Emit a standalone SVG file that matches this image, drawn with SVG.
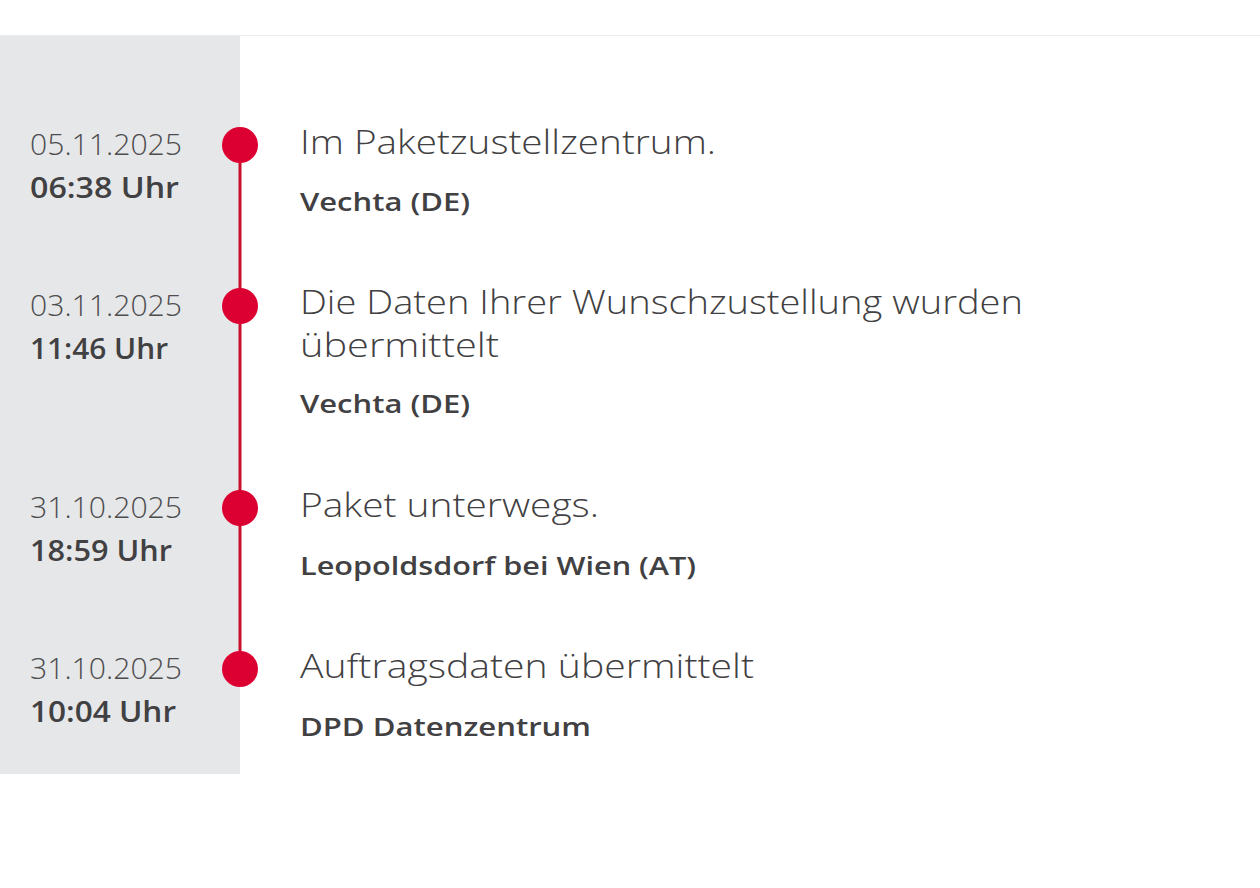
<svg xmlns="http://www.w3.org/2000/svg" width="1260" height="888" viewBox="0 0 1260 888">
<style>
.date{font-family:"Open Sans","Noto Sans",sans-serif;font-size:29px;font-weight:300;fill:#4d4d4f}
.time{font-family:"Open Sans","Noto Sans",sans-serif;font-size:28px;font-weight:600;fill:#414042}
.title{font-family:"Open Sans","Noto Sans",sans-serif;font-size:33px;font-weight:300;fill:#414042}
.loc{font-family:"Open Sans","Noto Sans",sans-serif;font-size:26px;font-weight:600;fill:#414042}
.dot{fill:#dc0032}
</style>
<rect x="0" y="0" width="1260" height="888" fill="#ffffff"/>
<line x1="0" y1="35.5" x2="1260" y2="35.5" stroke="#ebebeb" stroke-width="1"/>
<rect x="0" y="36" width="240" height="738" fill="#e6e7e8"/>
<g id="connectors">
<line x1="240" y1="145" x2="240" y2="669" stroke="#c8102e" stroke-width="3"/>
</g>
<g id="event1">
<circle class="dot" cx="240" cy="145" r="18"/>
<text class="date" x="30" y="155" textLength="152" lengthAdjust="spacingAndGlyphs">05.11.2025</text>
<text class="time" x="30" y="198" textLength="149" lengthAdjust="spacingAndGlyphs">06:38 Uhr</text>
<text class="title" x="300" y="154" textLength="416" lengthAdjust="spacingAndGlyphs">Im Paketzustellzentrum.</text>
<text class="loc" x="300" y="211" textLength="170" lengthAdjust="spacingAndGlyphs">Vechta (DE)</text>
</g>
<g id="event2">
<circle class="dot" cx="240" cy="306" r="18"/>
<text class="date" x="30" y="316" textLength="152" lengthAdjust="spacingAndGlyphs">03.11.2025</text>
<text class="time" x="30" y="359" textLength="138" lengthAdjust="spacingAndGlyphs">11:46 Uhr</text>
<text class="title" x="300" y="314" textLength="723" lengthAdjust="spacingAndGlyphs">Die Daten Ihrer Wunschzustellung wurden</text>
<text class="title" x="300" y="357" textLength="199" lengthAdjust="spacingAndGlyphs">übermittelt</text>
<text class="loc" x="300" y="413" textLength="170" lengthAdjust="spacingAndGlyphs">Vechta (DE)</text>
</g>
<g id="event3">
<circle class="dot" cx="240" cy="508" r="18"/>
<text class="date" x="30" y="518" textLength="152" lengthAdjust="spacingAndGlyphs">31.10.2025</text>
<text class="time" x="30" y="561" textLength="142" lengthAdjust="spacingAndGlyphs">18:59 Uhr</text>
<text class="title" x="300" y="517" textLength="299" lengthAdjust="spacingAndGlyphs">Paket unterwegs.</text>
<text class="loc" x="300" y="575" textLength="396" lengthAdjust="spacingAndGlyphs">Leopoldsdorf bei Wien (AT)</text>
</g>
<g id="event4">
<circle class="dot" cx="240" cy="669" r="18"/>
<text class="date" x="30" y="679" textLength="152" lengthAdjust="spacingAndGlyphs">31.10.2025</text>
<text class="time" x="30" y="722" textLength="146" lengthAdjust="spacingAndGlyphs">10:04 Uhr</text>
<text class="title" x="300" y="678" textLength="454" lengthAdjust="spacingAndGlyphs">Auftragsdaten übermittelt</text>
<text class="loc" x="300" y="736" textLength="291" lengthAdjust="spacingAndGlyphs">DPD Datenzentrum</text>
</g>
</svg>
